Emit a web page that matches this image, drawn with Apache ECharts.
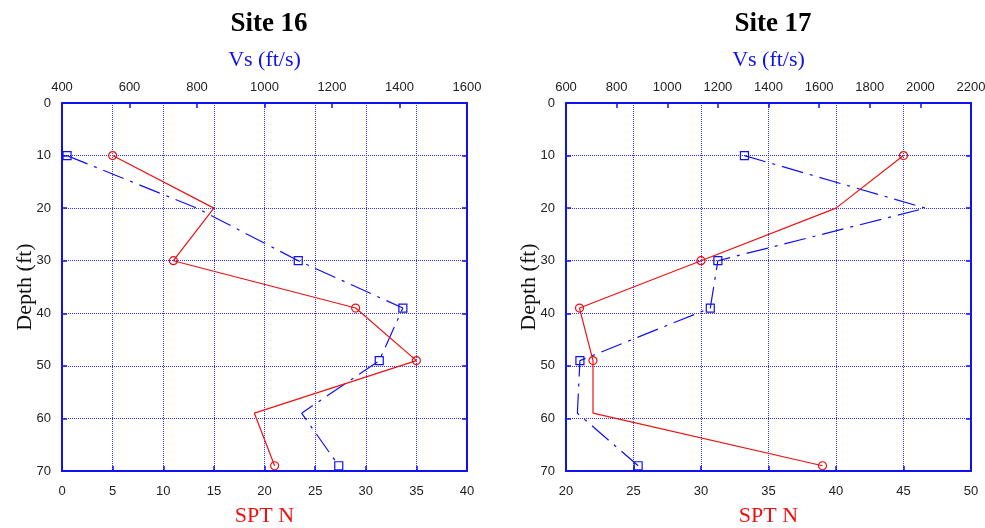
<!DOCTYPE html>
<html>
<head>
<meta charset="utf-8">
<title>Site 16 / Site 17</title>
<script src="https://cdn.jsdelivr.net/npm/echarts@6/dist/echarts.min.js"></script>
<style>
  html, body { margin: 0; padding: 0; background: #fff; }
  #chart { width: 985px; height: 528px; }
</style>
</head>
<body>
<div id="chart"></div>
<script>
  // Datas
  var siteNames = ['Site 16', 'Site 17'];
  var depth16 = [10, 20, 30, 39, 49, 59, 69];
  var spt16 = [5, 15, 11, 29, 35, 19, 21];
  var vs16 = [415, 800, 1100, 1410, 1340, 1110, 1220];
  var depth17 = [10, 20, 30, 39, 49, 59, 69];
  var spt17 = [45, 40, 30, 21, 22, 22, 39];
  var vs17 = [1305, 2020, 1200, 1170, 655, 645, 885];
  // depths that carry a marker (20 and 59 are plain vertices)
  var markedDepths = [10, 30, 39, 49, 69];
  // axis ranges
  var sptRange16 = [0, 40];
  var vsRange16 = [400, 1600];
  var sptRange17 = [20, 50];
  var vsRange17 = [600, 2200];
  var depthRange = [0, 70];

  var BLUE = '#1010f0';
  var GRIDBLUE = '#3030ff';
  var RED = '#ee1111';
  var serif = '"Liberation Serif", "DejaVu Serif", serif';
  var sans = '"Liberation Sans", Arial, sans-serif';

  function plain(v) { return String(v); }

  function pairs(xs, ys) {
    return xs.map(function (x, i) {
      var item = { value: [x, ys[i]] };
      if (markedDepths.indexOf(ys[i]) < 0) item.symbol = 'none';
      return item;
    });
  }

  function sptAxis(grid, range) {
    return {
      gridIndex: grid, type: 'value', position: 'bottom',
      min: range[0], max: range[1], interval: 5,
      name: 'SPT N', nameLocation: 'middle', nameGap: 34, nameMoveOverlap: false,
      nameTextStyle: { color: RED, fontFamily: serif, fontSize: 22 },
      axisLine: { show: true, onZero: false, lineStyle: { color: BLUE, width: 2 } },
      axisTick: { show: true, inside: true, length: 5, lineStyle: { color: BLUE, width: 1.5 } },
      axisLabel: { color: '#222', fontFamily: sans, fontSize: 13, margin: 14, formatter: plain },
      splitLine: { show: true, lineStyle: { color: GRIDBLUE, width: 1, type: 'dotted' } }
    };
  }

  function vsAxis(grid, range) {
    return {
      gridIndex: grid, type: 'value', position: 'top',
      min: range[0], max: range[1], interval: 200,
      name: 'Vs (ft/s)', nameLocation: 'middle', nameGap: 32, nameMoveOverlap: false,
      nameTextStyle: { color: BLUE, fontFamily: serif, fontSize: 22 },
      axisLine: { show: true, onZero: false, lineStyle: { color: BLUE, width: 2 } },
      axisTick: { show: true, inside: true, length: 5, lineStyle: { color: BLUE, width: 1.5 } },
      axisLabel: { color: '#222', fontFamily: sans, fontSize: 13, margin: 9, formatter: plain },
      splitLine: { show: false }
    };
  }

  function depthAxis(grid, side) {
    var left = side === 'left';
    return {
      gridIndex: grid, type: 'value', position: side, inverse: true,
      min: depthRange[0], max: depthRange[1], interval: 10,
      name: left ? 'Depth (ft)' : '', nameLocation: 'middle', nameGap: 26, nameMoveOverlap: false,
      nameTextStyle: { color: '#111', fontFamily: serif, fontSize: 22 },
      axisLine: { show: true, onZero: false, lineStyle: { color: BLUE, width: 2 } },
      axisTick: { show: true, inside: true, length: 5, lineStyle: { color: BLUE, width: 1.5 } },
      axisLabel: { show: left, color: '#222', fontFamily: sans, fontSize: 13, margin: 11 },
      splitLine: { show: left, lineStyle: { color: GRIDBLUE, width: 1, type: 'dotted' } }
    };
  }

  function sptSeries(x, y, xs, ys) {
    return {
      type: 'line', xAxisIndex: x, yAxisIndex: y, data: pairs(xs, ys),
      symbol: 'circle', symbolSize: 8,
      itemStyle: { color: 'rgba(255,255,255,0)', borderColor: RED, borderWidth: 1.2 },
      lineStyle: { color: RED, width: 1.2 },
      animation: false, z: 3
    };
  }

  function vsSeries(x, y, xs, ys) {
    return {
      type: 'line', xAxisIndex: x, yAxisIndex: y, data: pairs(xs, ys),
      symbol: 'rect', symbolSize: 8,
      itemStyle: { color: 'rgba(255,255,255,0)', borderColor: BLUE, borderWidth: 1.2 },
      lineStyle: { color: BLUE, width: 1.2, type: [22, 7, 3, 7] },
      animation: false, z: 2
    };
  }

  // Init echarts
  var chart = echarts.init(document.getElementById('chart'));
  var option = {
    backgroundColor: '#fff',
    title: [
      { text: siteNames[0], left: 264, top: 6, textAlign: 'center',
        textStyle: { fontFamily: serif, fontWeight: 'bold', fontSize: 27, color: '#000' } },
      { text: siteNames[1], left: 768, top: 6, textAlign: 'center',
        textStyle: { fontFamily: serif, fontWeight: 'bold', fontSize: 27, color: '#000' } }
    ],
    grid: [
      { left: 62, top: 103, width: 405, height: 368, outerBoundsMode: 'none', containLabel: false },
      { left: 566, top: 103, width: 405, height: 368, outerBoundsMode: 'none', containLabel: false }
    ],
    xAxis: [
      sptAxis(0, sptRange16), vsAxis(0, vsRange16),
      sptAxis(1, sptRange17), vsAxis(1, vsRange17)
    ],
    yAxis: [
      depthAxis(0, 'left'), depthAxis(0, 'right'),
      depthAxis(1, 'left'), depthAxis(1, 'right')
    ],
    series: [
      vsSeries(1, 0, vs16, depth16),
      sptSeries(0, 0, spt16, depth16),
      vsSeries(3, 2, vs17, depth17),
      sptSeries(2, 2, spt17, depth17)
    ]
  };
  chart.setOption(option);
</script>
</body>
</html>
